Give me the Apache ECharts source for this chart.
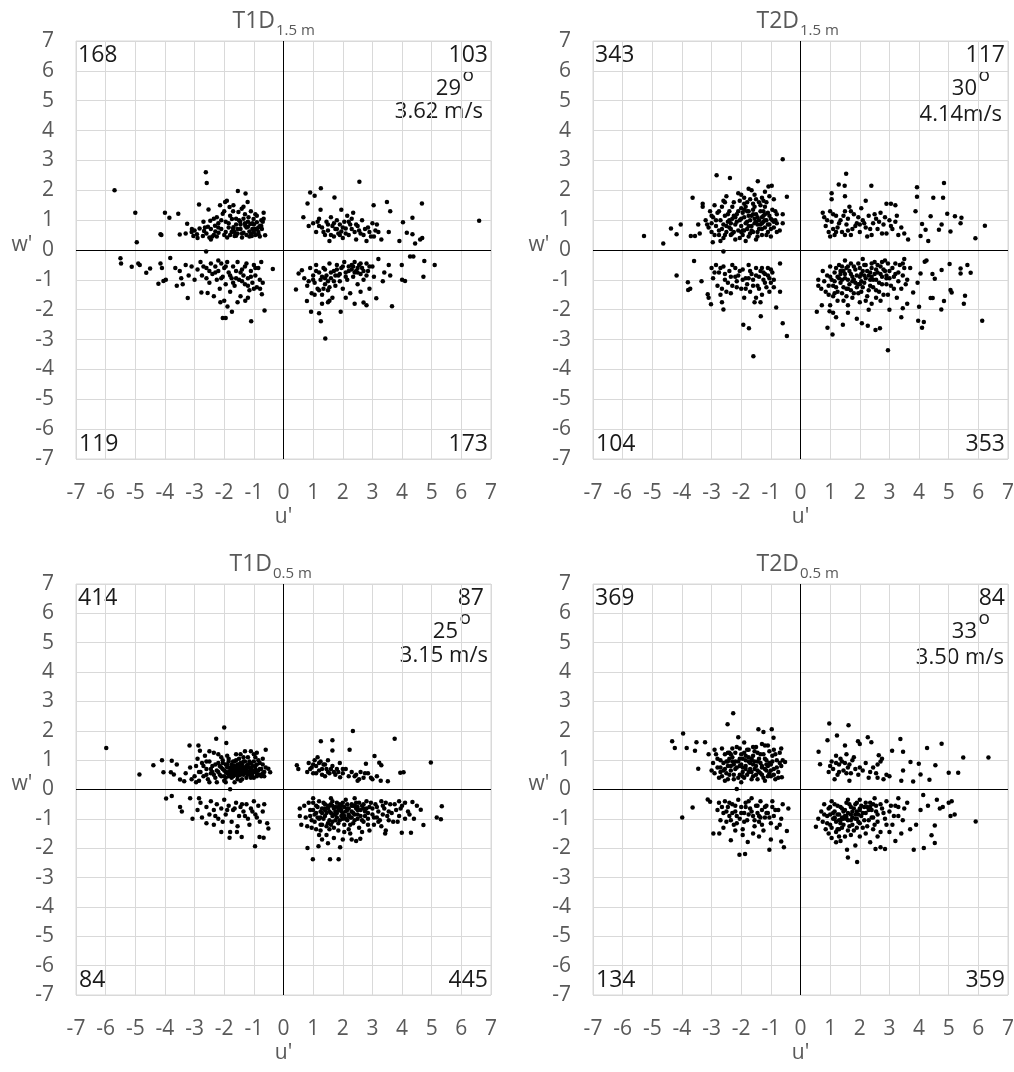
<!DOCTYPE html>
<html>
<head>
<meta charset="utf-8">
<script src="https://cdn.jsdelivr.net/npm/echarts@6/dist/echarts.min.js"></script>
<style>
  html, body { margin: 0; padding: 0; background: #fff; }
  #chart { width: 1014px; height: 1072px; }
</style>
</head>
<body>
<div id="chart"></div>
<script>
// Fluctuation pairs (u', w') in m/s for each measurement case.
const t1d15 = [
  // u' < 0, w' > 0
  [-5.7,2.0],[-5.0,1.25],[-4.95,0.26],[-4.0,1.25],[-3.85,1.08],[-4.15,0.53],[-4.12,0.5],[-3.55,1.21],[-3.5,0.52],
  [-2.62,2.6],[-2.59,2.24],[-2.85,1.52],[-3.25,0.88],[-3.1,0.6],[-3.3,0.55],[-3.09,0.7],[-3.04,0.47],[-2.92,0.53],
  [-2.83,0.72],[-2.72,0.47],[-2.68,0.64],[-2.53,1.36],[-2.47,0.98],[-2.45,0.35],[-2.31,0.81],[-2.25,1.1],[-2.19,0.58],
  [-2.14,1.5],[-2.05,1.21],[-1.97,1.61],[-1.91,1.65],[-1.82,1.44],[-1.74,1.04],[-1.69,1.5],[-1.69,0.76],[-1.65,0.47],
  [-1.54,1.98],[-1.52,1.27],[-1.46,0.95],[-1.41,1.38],[-1.35,0.58],[-1.29,0.81],[-1.28,1.89],[-1.21,1.61],[-1.18,1.1],
  [-1.12,0.87],[-1.07,0.47],[-1.01,1.04],[-0.96,0.7],[-0.9,0.93],[-0.84,0.53],[-0.79,0.81],[-0.73,0.7],[-0.67,1.25],
  [-0.67,1.05],[-0.62,0.49],[-2.4,0.45],[-2.3,0.62],[-2.2,0.9],[-2.1,0.7],[-2.0,0.5],[-1.95,0.95],[-1.9,0.42],
  [-1.85,0.75],[-1.8,1.15],[-1.75,0.6],[-1.6,0.85],[-1.55,0.55],[-1.5,1.0],[-1.45,0.7],[-1.4,0.42],[-1.3,1.2],
  [-1.25,0.5],[-1.2,0.78],[-1.15,0.62],[-1.1,1.3],[-1.05,0.9],[-0.95,0.5],[-0.9,1.15],[-0.85,0.75],[-0.8,0.45],
  [-0.75,1.0],[-2.9,0.4],[-2.7,0.95],[-2.6,0.55],[-2.55,0.78],[-2.5,0.42],[-2.35,1.05],[-2.0,1.3],[-1.7,1.3],
  [-1.6,0.48],[-1.35,1.45],[-1.0,0.6],[-0.7,0.95],[-2.45,0.7],[-2.35,0.5],[-2.2,0.75],[-2.1,1.0],[-1.95,0.6],
  [-1.85,0.9],[-1.8,0.5],[-1.7,0.7],[-1.6,1.05],[-1.55,0.7],[-1.45,0.85],[-1.4,0.55],[-1.35,1.05],[-1.25,0.75],
  [-1.2,0.95],[-1.15,0.45],[-1.05,0.7],[-1.0,0.85],[-0.95,1.2],[-0.85,0.6],[-0.75,0.8],[-2.25,0.45],[-2.65,0.75],
  [-3.0,0.65],[-1.65,0.6],[-1.3,0.9],[-1.1,0.55],[-0.9,0.7],
  // u' < 0, w' < 0
  [-5.5,-0.28],[-5.48,-0.45],[-5.12,-0.56],[-4.9,-0.45],[-4.85,-0.5],[-4.63,-0.76],[-4.5,-0.62],[-4.22,-1.13],
  [-4.05,-1.04],[-3.97,-1.0],[-4.15,-0.45],[-4.1,-0.6],[-3.82,-0.27],[-3.65,-0.6],[-3.6,-1.2],[-3.45,-0.95],
  [-3.23,-1.61],[-2.77,-1.42],[-2.56,-1.44],[-2.61,-0.05],[-0.36,-0.64],[-0.64,-2.03],[-1.09,-2.39],[-2.05,-2.28],
  [-1.95,-2.28],[-1.74,-2.07],[-1.89,-1.89],[-2.13,-1.75],[-1.29,-1.7],[-0.73,-1.48],[-0.79,-1.3],[-3.5,-0.7],
  [-3.3,-0.5],[-3.2,-0.85],[-3.1,-0.55],[-3.0,-1.0],[-2.9,-0.65],[-2.8,-0.4],[-2.75,-0.85],[-2.6,-0.6],[-2.5,-1.1],
  [-2.45,-0.45],[-2.4,-0.8],[-2.3,-0.55],[-2.25,-1.0],[-2.2,-0.7],[-2.15,-1.3],[-2.1,-0.45],[-2.05,-0.9],[-2.0,-0.6],
  [-1.95,-1.15],[-1.9,-0.4],[-1.85,-0.75],[-1.8,-1.4],[-1.75,-0.95],[-1.7,-0.55],[-1.65,-1.2],[-1.6,-0.7],[-1.55,-0.4],
  [-1.5,-1.0],[-1.45,-1.55],[-1.4,-0.65],[-1.35,-0.85],[-1.3,-1.15],[-1.25,-0.45],[-1.2,-0.95],[-1.15,-1.35],[-1.1,-0.7],
  [-1.05,-1.1],[-1.0,-0.5],[-0.95,-0.85],[-0.9,-1.25],[-0.85,-0.6],[-0.8,-1.0],[-0.75,-0.4],[-0.7,-1.1],[-2.35,-1.55],
  [-2.0,-1.7],[-1.55,-1.75],[-1.2,-1.6],[-2.6,-0.95],[-3.4,-1.15],[-2.2,-0.35],[-2.3,-0.75],[-2.1,-0.95],[-1.95,-0.55],
  [-1.8,-0.85],[-1.6,-0.95],[-1.45,-0.75],[-1.3,-0.55],[-1.2,-1.2],[-1.1,-0.9],[-0.95,-0.6],[-2.5,-0.7],[-1.7,-1.1],
  [-1.4,-1.05],[-1.0,-1.3],[-2.7,-0.55],
  // u' > 0, w' > 0
  [2.56,2.29],[1.26,2.07],[0.9,1.93],[1.05,1.82],[0.81,1.56],[1.72,1.76],[3.49,1.61],[4.67,1.56],[6.6,0.98],[3.04,1.5],
  [3.6,1.3],[4.35,1.08],[4.03,0.93],[4.16,0.58],[4.35,0.53],[4.61,0.35],[4.44,0.22],[3.91,0.3],[0.67,1.1],[0.85,0.8],
  [1.25,1.35],[1.95,1.35],[3.3,0.35],[3.55,0.6],[3.15,0.85],[2.35,1.25],[4.68,0.4],[1.0,0.9],[1.1,0.6],[1.2,1.05],
  [1.3,0.75],[1.4,0.5],[1.45,0.95],[1.5,0.65],[1.6,1.1],[1.65,0.8],[1.7,0.45],[1.75,0.7],[1.8,1.0],[1.85,0.55],
  [1.9,0.85],[1.95,0.62],[2.0,0.4],[2.05,0.95],[2.1,0.72],[2.2,0.5],[2.25,0.85],[2.3,1.05],[2.4,0.6],[2.45,0.35],
  [2.5,0.8],[2.6,0.55],[2.65,1.0],[2.75,0.7],[2.8,0.3],[2.9,0.6],[3.0,0.9],[3.05,0.45],[3.2,0.6],[1.55,0.3],[2.15,1.15],
  [1.2,0.8],[1.35,0.6],[1.5,0.85],[1.6,0.5],[1.7,0.9],[1.8,0.7],[1.9,0.5],[2.0,0.75],[2.1,0.55],[2.3,0.7],[2.45,0.85],
  [2.55,0.65],[2.7,0.5],[2.85,0.75],[3.1,0.65],[1.15,0.95],[2.2,0.95],[2.95,0.45],
  // u' > 0, w' < 0
  [1.41,-2.96],[1.26,-2.39],[0.93,-2.07],[1.2,-2.12],[1.93,-2.07],[3.66,-1.88],[2.7,-1.76],[2.8,-1.85],[3.13,-1.62],
  [4.72,-0.9],[4.75,-0.37],[5.1,-0.5],[3.99,-0.5],[4.1,-1.04],[4.0,-1.0],[4.27,-0.22],[4.38,-0.22],[0.42,-1.32],
  [0.51,-0.79],[0.62,-0.68],[0.79,-1.71],[3.55,-0.5],[3.4,-0.75],[3.6,-0.85],[3.2,-0.3],[3.35,-1.05],[2.4,-1.8],
  [1.5,-1.75],[0.7,-0.95],[0.8,-1.2],[0.9,-0.6],[0.95,-1.45],[1.0,-0.85],[1.05,-1.1],[1.1,-0.5],[1.15,-1.3],[1.2,-0.75],
  [1.25,-1.0],[1.3,-1.5],[1.35,-0.6],[1.4,-1.15],[1.45,-0.85],[1.5,-1.35],[1.55,-0.45],[1.6,-0.95],[1.65,-1.6],
  [1.7,-0.7],[1.75,-1.2],[1.8,-0.5],[1.85,-0.85],[1.9,-1.05],[1.95,-0.6],[2.0,-1.3],[2.05,-0.4],[2.1,-0.75],[2.15,-1.0],
  [2.2,-0.55],[2.25,-1.45],[2.3,-0.65],[2.35,-0.9],[2.4,-0.4],[2.45,-0.7],[2.5,-1.15],[2.55,-0.5],[2.6,-0.8],[2.65,-0.6],
  [2.7,-1.0],[2.8,-0.45],[2.85,-0.7],[2.9,-1.3],[3.0,-0.55],[3.05,-0.9],[1.3,-1.8],[1.55,-1.7],[2.1,-1.6],[2.6,-1.4],
  [1.0,-1.0],[1.1,-0.7],[1.2,-1.35],[1.3,-0.9],[1.4,-0.65],[1.5,-1.05],[1.6,-0.75],[1.7,-1.05],[1.8,-0.65],[1.9,-0.8],
  [2.0,-0.55],[2.1,-0.9],[2.2,-0.7],[2.3,-0.5],[2.4,-0.75],[2.5,-0.6],[2.6,-0.45],[2.7,-0.7],[2.8,-0.85],[2.9,-0.55],
  [1.35,-1.3],[1.55,-1.25],[1.05,-1.5],[0.85,-1.05],[2.35,-0.55],[2.5,-0.75],[1.75,-0.85],[1.4,-0.95]
];

const t2d15 = [
  // u' < 0, w' > 0
  [-5.28,0.47],[-4.63,0.22],[-4.37,0.72],[-4.18,0.53],[-4.04,0.85],[-3.64,1.75],[-2.83,2.5],[-2.38,2.41],[-0.6,3.04],
  [-0.46,1.78],[-1.44,2.3],[-0.97,2.15],[-1.08,2.13],[-3.7,0.47],[-3.56,0.47],[-2.96,0.26],[-3.45,0.85],[-3.3,1.55],
  [-3.3,1.45],[-2.6,1.65],[-1.75,2.05],[-1.2,1.95],[-0.6,1.2],[-0.6,0.9],[-0.7,0.65],[-3.0,0.6],[-3.4,0.55],[-2.1,1.9],
  [-1.9,1.75],[-3.2,1.0],[-3.1,0.75],[-3.05,1.3],[-3.0,0.9],[-2.95,1.1],[-2.9,0.5],[-2.85,0.8],[-2.8,1.25],[-2.75,0.65],
  [-2.7,1.0],[-2.65,1.45],[-2.6,0.4],[-2.6,0.85],[-2.55,1.15],[-2.5,0.6],[-2.45,0.95],[-2.4,1.3],[-2.4,0.75],[-2.35,0.5],
  [-2.3,1.05],[-2.25,1.6],[-2.2,0.85],[-2.2,0.35],[-2.15,1.2],[-2.1,0.65],[-2.05,1.0],[-2.0,1.4],[-2.0,0.8],[-1.95,0.5],
  [-1.9,1.1],[-1.9,1.55],[-1.85,0.9],[-1.8,0.7],[-1.8,1.3],[-1.75,0.45],[-1.7,1.0],[-1.7,1.7],[-1.65,0.8],[-1.6,1.2],
  [-1.6,0.6],[-1.55,1.45],[-1.5,0.95],[-1.5,0.35],[-1.45,1.1],[-1.4,0.7],[-1.4,1.6],[-1.35,1.3],[-1.3,0.9],[-1.3,0.5],
  [-1.25,1.15],[-1.2,0.75],[-1.2,1.45],[-1.15,1.0],[-1.1,0.6],[-1.1,1.25],[-1.05,0.85],[-1.0,1.05],[-1.0,0.45],[-0.95,1.35],
  [-0.9,0.75],[-0.9,1.7],[-0.85,1.0],[-0.8,0.6],[-0.8,1.2],[-2.5,1.8],[-2.0,1.85],[-1.55,1.85],[-1.3,1.75],[-2.7,0.3],
  [-1.85,0.3],[-2.9,1.5],[-1.65,2.0],[-2.25,1.15],[-1.75,1.15],[-1.45,0.85],[-2.35,0.7],[-1.95,0.65],[-1.25,0.95],
  [-2.55,0.5],[-2.45,1.2],[-2.35,0.9],[-2.3,1.45],[-2.25,0.6],[-2.15,0.95],[-2.1,1.3],[-2.05,0.4],[-2.0,1.05],[-1.95,1.25],
  [-1.9,0.65],[-1.85,1.45],[-1.8,0.95],[-1.75,1.3],[-1.7,0.55],[-1.65,1.15],[-1.6,1.55],[-1.55,0.9],[-1.5,1.2],[-1.45,0.6],
  [-1.4,1.0],[-1.35,1.5],[-1.3,0.7],[-1.25,1.3],[-1.2,1.0],[-1.15,1.6],[-1.1,0.85],[-1.05,1.15],[-1.0,0.7],[-0.95,1.0],
  [-0.85,1.3],[-0.8,0.9],[-2.85,1.0],[-2.75,1.3],[-2.65,0.7],[-3.0,1.15],[-3.15,0.85],[-2.55,1.6],[-2.05,1.65],[-1.5,1.7],
  [-1.25,1.65],[-1.05,1.8],[-1.75,0.8],[-2.2,1.1],[-1.65,0.65],[-1.35,0.85],[-1.9,1.35],[-2.4,1.0],[-1.15,0.5],[-2.5,0.8],
  [-1.6,1.35],[-1.8,1.6],[-2.3,0.55],[-1.45,0.45],[-1.2,1.2],[-0.9,0.95],[-2.75,0.5],[-2.0,0.6],[-1.55,1.05],[-1.3,1.1],
  // u' < 0, w' < 0
  [-4.18,-0.85],[-3.79,-1.34],[-3.72,-1.3],[-3.8,-1.08],[-3.59,-0.37],[-3.34,-1.05],[-3.13,-1.48],[-3.02,-1.82],[-2.6,-1.99],
  [-1.93,-2.5],[-1.74,-2.62],[-1.59,-3.56],[-1.34,-2.22],[-0.6,-2.45],[-0.46,-2.88],[-0.82,-1.93],[-0.69,-0.45],[-0.69,-1.4],
  [-2.6,-0.05],[-3.1,-1.6],[-3.0,-0.6],[-2.95,-0.95],[-2.85,-0.5],[-2.8,-1.2],[-2.75,-0.75],[-2.65,-1.75],[-2.6,-0.55],
  [-2.55,-1.0],[-2.5,-1.4],[-2.4,-0.7],[-2.35,-0.9],[-2.3,-1.2],[-2.2,-0.6],[-2.15,-1.05],[-2.1,-0.85],[-2.0,-1.3],
  [-1.95,-0.65],[-1.9,-1.6],[-1.85,-0.95],[-1.8,-1.15],[-1.75,-0.5],[-1.7,-1.4],[-1.65,-0.8],[-1.6,-1.0],[-1.55,-1.75],
  [-1.5,-0.6],[-1.45,-1.2],[-1.4,-0.9],[-1.35,-0.7],[-1.3,-1.5],[-1.25,-1.0],[-1.2,-0.8],[-1.15,-1.25],[-1.1,-0.6],
  [-1.05,-0.95],[-1.0,-1.1],[-0.95,-0.75],[-0.9,-1.0],[-1.35,-1.75],[-2.7,-1.5],[-2.9,-0.75],[-2.7,-0.6],[-2.55,-0.8],
  [-2.45,-1.1],[-2.3,-0.5],[-2.2,-0.9],[-2.05,-0.7],[-1.95,-1.0],[-1.85,-1.3],[-1.7,-0.7],[-1.6,-1.2],[-1.5,-0.85],
  [-1.4,-1.3],[-1.3,-0.6],[-1.2,-1.1],[-1.1,-0.85],[-1.0,-0.65],[-0.9,-1.25],[-2.65,-1.3],[-2.35,-1.45],[-1.5,-1.6],
  [-1.25,-0.75],[-1.75,-0.95],[-2.15,-1.25],[-1.05,-1.4],
  // u' > 0, w' > 0
  [1.54,2.55],[1.29,2.19],[1.49,2.15],[2.39,2.15],[3.93,2.1],[4.84,2.24],[3.93,1.78],[4.48,1.75],[4.81,1.75],[3.88,1.3],
  [4.39,1.13],[4.1,0.87],[4.22,0.68],[4.05,0.47],[4.31,0.3],[4.76,0.85],[4.67,0.68],[4.95,1.21],[5.21,1.13],[5.43,1.08],
  [5.4,0.9],[5.06,0.62],[5.9,0.39],[6.22,0.81],[3.63,0.35],[3.5,0.55],[3.2,1.5],[1.05,1.9],[1.05,1.7],[1.5,1.8],
  [2.2,1.65],[3.05,1.55],[2.9,1.55],[0.75,1.25],[0.8,1.1],[0.85,0.8],[0.95,0.6],[1.0,1.3],[1.05,0.95],[1.15,0.5],
  [1.2,1.15],[1.25,0.75],[1.35,1.0],[1.4,0.6],[1.5,1.3],[1.55,0.85],[1.6,1.05],[1.7,0.5],[1.75,0.7],[1.8,1.2],[1.9,0.9],
  [2.0,0.6],[2.05,1.4],[2.1,1.0],[2.2,0.75],[2.3,1.15],[2.4,0.5],[2.45,0.9],[2.55,1.05],[2.6,0.7],[2.7,1.25],[2.8,0.85],
  [2.9,0.55],[3.0,1.0],[3.1,0.7],[3.2,0.95],[3.3,0.5],[3.4,0.75],[1.1,0.7],[1.65,1.45],[2.25,0.45],[0.9,1.0],[1.1,1.2],
  [1.2,0.6],[1.3,0.9],[1.45,1.15],[1.6,0.65],[1.7,1.3],[1.85,0.8],[1.95,1.1],[2.15,0.9],[2.35,0.7],[2.5,1.2],[2.65,0.95],
  [2.85,1.1],[3.05,0.8],[3.25,1.15],[1.0,0.45],[1.5,0.5],[2.0,0.85],[2.75,0.55],
  // u' > 0, w' < 0
  [0.55,-2.07],[0.72,-1.85],[0.91,-2.6],[1.08,-2.83],[0.98,-2.05],[1.1,-2.1],[1.2,-2.25],[1.43,-2.5],[2.07,-2.45],
  [2.27,-2.54],[2.53,-2.68],[2.68,-2.62],[2.95,-3.36],[3.4,-2.25],[3.97,-2.37],[4.16,-2.41],[4.1,-2.6],[4.75,-1.99],
  [4.84,-1.71],[5.06,-1.34],[5.1,-1.42],[5.51,-1.8],[5.55,-1.53],[6.13,-2.37],[5.4,-0.62],[5.4,-0.79],[5.63,-0.5],
  [5.74,-0.76],[5.03,-0.47],[4.76,-0.67],[4.53,-0.96],[4.45,-0.8],[4.39,-1.61],[4.46,-1.61],[4.19,-0.39],[4.25,-0.35],
  [4.05,-0.79],[3.8,-1.42],[3.95,-1.1],[4.0,-1.9],[3.6,-1.8],[3.45,-1.95],[0.6,-1.0],[0.6,-1.2],[1.6,-2.1],[1.9,-2.3],
  [2.3,-2.0],[3.0,-2.0],[3.5,-0.3],[3.45,-0.45],[3.7,-0.6],[0.75,-0.7],[0.8,-1.05],[0.85,-1.4],[0.9,-0.85],[0.95,-1.2],
  [1.0,-0.55],[1.05,-1.0],[1.1,-1.55],[1.15,-0.75],[1.2,-1.25],[1.25,-0.9],[1.3,-0.5],[1.35,-1.1],[1.4,-1.45],[1.45,-0.7],
  [1.5,-0.95],[1.55,-1.3],[1.6,-0.55],[1.65,-1.15],[1.7,-0.8],[1.75,-1.6],[1.8,-1.0],[1.85,-0.65],[1.9,-1.25],[1.95,-0.45],
  [2.0,-0.9],[2.05,-1.4],[2.1,-0.7],[2.15,-1.1],[2.2,-0.5],[2.25,-1.55],[2.3,-0.85],[2.35,-1.2],[2.4,-0.6],[2.45,-1.0],
  [2.5,-0.4],[2.55,-1.35],[2.6,-0.75],[2.65,-1.1],[2.7,-0.55],[2.75,-0.9],[2.8,-1.5],[2.85,-0.7],[2.9,-1.15],[2.95,-0.45],
  [3.0,-0.95],[3.1,-0.6],[3.15,-1.3],[3.2,-0.8],[3.3,-1.05],[3.35,-0.5],[3.45,-0.85],[3.55,-1.15],[1.25,-1.7],[1.6,-1.85],
  [2.0,-1.75],[2.4,-1.8],[1.0,-1.85],[2.7,-1.7],[1.5,-0.35],[2.1,-0.3],[2.85,-0.35],[1.35,-0.8],[1.75,-1.05],[2.15,-0.85],
  [2.55,-0.65],[1.95,-1.15],[1.4,-1.0],[2.35,-0.75],[1.7,-0.45],[2.9,-0.85],[3.25,-1.6],[1.15,-1.45],
  [1.0,-0.9],[1.1,-1.2],[1.2,-0.6],[1.25,-1.4],[1.3,-0.95],[1.4,-0.55],[1.45,-1.25],[1.5,-0.8],[1.55,-1.55],[1.6,-1.0],
  [1.65,-0.7],[1.7,-1.35],[1.8,-0.55],[1.85,-1.1],[1.9,-0.85],[1.95,-1.45],[2.0,-0.6],[2.05,-1.05],[2.1,-1.25],[2.15,-0.5],
  [2.2,-0.95],[2.25,-0.7],[2.3,-1.35],[2.35,-1.0],[2.4,-0.45],[2.45,-1.25],[2.5,-0.8],[2.55,-1.0],[2.6,-0.5],[2.65,-1.4],
  [2.7,-0.8],[2.75,-1.15],[2.8,-0.65],[2.9,-0.95],[3.0,-0.7],[3.05,-1.2],[3.2,-0.45],[3.3,-0.75],[3.4,-1.3],[3.5,-0.6],
  [1.15,-1.05],[1.35,-0.7],[1.6,-1.3],[1.75,-0.9],[2.0,-1.15],[2.2,-1.7],[1.45,-1.7],[0.95,-1.5],[0.7,-1.3],[2.55,-1.6],
  [2.95,-1.5],[1.8,-1.45],[2.4,-0.9],[2.05,-0.8],[1.55,-0.6],[2.75,-0.4],[3.15,-0.9],[3.6,-1.0]
];

const t1d05 = [
  // u' < 0, w' > 0
  [-5.98,1.41],[-4.86,0.51],[-4.39,0.83],[-4.05,0.59],[-4.1,1.0],[-3.77,0.98],[-3.6,0.85],[-3.8,0.59],[-3.7,0.51],
  [-3.49,0.34],[-3.17,1.5],[-2.87,1.5],[-2.82,1.32],[-2.27,1.73],[-2.0,2.11],[-1.93,1.58],[-1.8,0.01],[-0.6,1.35],
  [-0.51,0.71],[-0.45,0.59],[-3.3,0.55],[-3.15,0.75],[-3.35,0.28],[-3.0,0.45],[-2.95,0.8],[-2.9,1.05],[-2.85,0.3],
  [-2.8,0.6],[-2.75,0.9],[-2.7,0.45],[-2.65,1.15],[-2.6,0.7],[-2.55,0.35],[-2.5,0.95],[-2.45,0.55],[-2.4,0.8],[-2.35,1.25],
  [-2.3,0.4],[-2.25,0.65],[-2.2,0.9],[-2.15,0.5],[-2.1,1.1],[-2.05,0.7],[-2.0,0.3],[-1.95,0.85],[-1.9,0.55],[-1.85,1.05],
  [-1.8,0.65],[-1.75,0.4],[-1.7,0.8],[-1.65,0.55],[-1.6,1.0],[-1.6,0.7],[-1.55,0.45],[-1.5,0.85],[-1.5,0.6],[-1.45,0.3],
  [-1.45,1.2],[-1.4,0.7],[-1.35,0.5],[-1.35,0.95],[-1.3,0.65],[-1.25,0.8],[-1.25,0.4],[-1.2,1.1],[-1.2,0.6],[-1.15,0.75],
  [-1.1,0.5],[-1.1,0.9],[-1.05,0.65],[-1.0,1.2],[-1.0,0.4],[-0.95,0.8],[-0.9,0.55],[-0.85,1.0],[-0.8,0.7],[-0.75,0.45],
  [-0.7,0.85],[-0.65,0.6],[-1.7,0.95],[-1.55,0.75],[-1.85,0.45],[-2.05,0.9],[-1.3,1.3],[-0.9,1.25],[-2.5,1.3],[-2.25,0.25],
  [-1.65,0.25],[-1.75,0.6],[-1.4,0.55],[-1.6,0.5],[-1.3,0.75],[-1.5,0.7],[-1.2,0.85],[-1.8,0.75],[-1.1,0.7],[-1.45,0.9],
  [-1.95,0.6],[-1.65,0.8],[-1.35,0.65],[-1.05,0.55],[-2.4,0.6],[-0.95,0.65],
  [-2.2,0.6],[-2.15,0.8],[-2.1,0.45],[-2.05,1.0],[-2.0,0.65],[-1.95,0.4],[-1.9,0.75],[-1.85,0.95],[-1.8,0.5],[-1.75,0.85],
  [-1.7,0.45],[-1.7,0.65],[-1.65,0.95],[-1.6,0.6],[-1.55,0.85],[-1.55,0.35],[-1.5,0.5],[-1.5,1.05],[-1.45,0.75],[-1.45,0.5],
  [-1.4,0.85],[-1.4,0.35],[-1.35,0.75],[-1.3,0.55],[-1.3,0.95],[-1.25,0.65],[-1.2,0.5],[-1.2,0.75],[-1.15,0.95],[-1.15,0.55],
  [-1.1,0.65],[-1.05,0.8],[-1.05,0.45],[-1.0,0.6],[-1.0,0.95],[-0.95,0.7],[-0.9,0.85],[-0.9,0.45],[-0.85,0.65],[-0.8,0.5],
  [-0.8,0.9],[-0.75,0.7],[-0.7,1.05],[-0.7,0.55],[-2.6,0.5],[-2.7,0.8],[-2.45,0.7],[-2.35,0.5],[-2.3,0.85],[-2.6,0.95],
  [-2.85,0.6],[-2.2,1.2],[-1.9,1.15],[-1.6,1.2],[-1.35,1.1],[-1.1,1.3],[-0.95,1.1],[-2.0,0.45],[-1.75,0.7],[-1.65,0.7],
  [-1.5,0.65],[-1.35,0.6],[-1.25,0.7],[-1.85,0.6],[-1.45,0.6],[-1.55,0.55],[-1.25,0.55],[-1.7,0.55],[-1.1,0.4],[-1.9,0.85],
  [-2.1,0.75],[-0.6,0.75],[-0.65,0.45],[-3.1,0.35],[-2.95,0.25],[-2.5,0.25],[-1.95,0.25],
  // u' < 0, w' < 0
  [-3.96,-0.31],[-3.77,-0.22],[-3.49,-0.6],[-3.43,-0.75],[-3.15,-0.3],[-3.07,-1.0],[-2.85,-0.3],[-1.82,-1.64],[-1.8,-1.45],
  [-1.57,-1.45],[-1.41,-1.62],[-0.96,-1.93],[-0.81,-1.62],[-0.67,-1.64],[-0.51,-1.33],[-0.55,-1.15],[-2.1,-1.45],[-2.35,-1.2],
  [-2.9,-0.7],[-2.8,-0.45],[-2.75,-0.95],[-2.6,-0.6],[-2.5,-0.85],[-2.45,-0.4],[-2.35,-0.7],[-2.25,-0.5],[-2.2,-1.0],
  [-2.1,-0.65],[-2.0,-0.35],[-1.95,-0.85],[-1.85,-0.55],[-1.75,-1.1],[-1.7,-0.7],[-1.6,-0.45],[-1.5,-0.9],[-1.45,-0.6],
  [-1.35,-0.75],[-1.25,-0.5],[-1.2,-1.0],[-1.1,-0.65],[-1.0,-0.4],[-0.95,-0.85],[-0.85,-0.55],[-0.8,-1.1],[-0.7,-0.75],
  [-0.65,-0.5],[-1.55,-1.25],[-2.6,-1.15],[-1.65,-0.65],[-1.3,-0.9],[-2.3,-0.9],[-1.9,-0.7],[-1.4,-0.5],[-1.05,-0.75],
  [-0.9,-0.95],[-2.05,-1.1],[-1.15,-1.2],
  // u' > 0, w' > 0
  [2.34,1.99],[1.26,1.64],[1.65,1.68],[3.75,1.73],[4.97,0.92],[1.65,1.33],[2.23,1.35],[3.07,1.14],[3.23,0.91],[3.3,0.83],
  [2.78,0.88],[3.94,0.57],[4.05,0.59],[3.52,0.28],[3.28,0.3],[1.91,0.42],[0.45,0.83],[0.5,0.7],[2.5,0.3],[2.95,0.4],
  [0.8,0.6],[0.85,0.9],[0.95,0.75],[1.0,0.55],[1.05,1.0],[1.1,0.8],[1.2,0.65],[1.25,0.95],[1.3,0.5],[1.35,0.85],[1.45,0.7],
  [1.5,1.0],[1.55,0.55],[1.65,0.8],[1.7,0.6],[1.8,0.7],[1.9,0.9],[2.0,0.55],[2.1,0.7],[2.2,0.45],[2.3,0.6],[2.45,0.5],
  [2.6,0.6],[2.7,0.4],[2.85,0.55],[3.0,0.35],[1.15,1.1],[1.4,0.45],[0.9,0.7],[1.0,0.85],[1.1,0.55],[1.2,0.9],[1.3,0.7],
  [1.4,0.85],[1.5,0.6],[1.6,0.7],[1.75,0.5],[1.85,0.6],[2.0,0.7],[2.4,0.45],[2.55,0.35],[2.75,0.55],[3.15,0.45],
  // u' > 0, w' < 0
  [0.99,-2.38],[1.57,-2.38],[1.86,-2.38],[0.81,-1.99],[1.18,-1.93],[1.5,-1.83],[1.91,-1.97],[4.72,-1.21],[5.34,-0.57],
  [5.17,-0.95],[5.31,-1.01],[3.99,-1.47],[4.3,-1.47],[3.43,-1.5],[3.45,-1.4],[4.63,-0.69],[4.35,-0.43],[4.5,-0.55],
  [2.59,-1.68],[2.45,-1.75],[2.3,-1.7],[0.55,-0.65],[0.55,-0.9],[0.6,-1.2],[4.1,-1.0],[4.2,-0.75],[3.9,-0.4],[4.4,-1.0],
  [0.7,-0.55],[0.75,-0.95],[0.8,-1.25],[0.9,-0.7],[0.95,-1.05],[1.0,-0.45],[1.05,-0.85],[1.1,-1.35],[1.15,-0.6],[1.2,-1.0],
  [1.25,-0.75],[1.3,-1.2],[1.35,-0.45],[1.4,-0.9],[1.45,-1.55],[1.5,-0.65],[1.55,-1.05],[1.6,-0.8],[1.65,-0.4],[1.7,-1.3],
  [1.75,-0.6],[1.8,-0.95],[1.85,-1.15],[1.9,-0.5],[1.95,-0.75],[2.0,-1.0],[2.05,-1.45],[2.1,-0.35],[2.15,-0.65],[2.2,-0.9],
  [2.25,-1.2],[2.3,-0.5],[2.35,-0.8],[2.4,-1.05],[2.45,-0.45],[2.5,-0.7],[2.55,-1.3],[2.6,-0.9],[2.65,-0.55],[2.7,-1.1],
  [2.75,-0.75],[2.8,-0.4],[2.85,-1.0],[2.9,-0.6],[3.0,-0.85],[3.05,-1.2],[3.1,-0.5],[3.2,-0.75],[3.25,-1.05],[3.3,-0.4],
  [3.4,-0.65],[3.5,-0.9],[3.6,-0.5],[3.7,-1.1],[3.8,-0.7],[3.9,-0.9],[4.0,-0.55],[1.3,-1.7],[1.7,-1.65],[2.0,-1.7],
  [1.2,-1.55],[2.9,-1.4],[3.3,-1.25],[1.6,-0.3],[2.4,-0.3],[1.45,-1.25],[2.2,-1.35],[1.0,-0.3],[1.4,-0.7],[1.75,-0.85],
  [2.05,-0.6],[2.3,-0.95],[1.55,-0.55],[1.85,-0.7],[2.15,-1.05],[2.5,-0.85],[1.25,-0.95],[1.95,-0.9],[2.7,-0.65],
  [3.15,-0.95],[3.55,-0.75],[2.85,-0.8],[1.65,-1.1],[2.35,-0.55],[1.1,-0.8],[3.35,-0.55],
  [1.0,-0.7],[1.05,-1.1],[1.1,-0.55],[1.15,-0.95],[1.2,-0.4],[1.25,-1.2],[1.3,-0.65],[1.35,-1.0],[1.4,-0.5],[1.45,-0.8],
  [1.5,-1.15],[1.55,-0.75],[1.6,-0.5],[1.6,-1.2],[1.65,-0.9],[1.7,-0.65],[1.75,-1.05],[1.8,-0.45],[1.8,-0.8],[1.85,-0.6],
  [1.9,-1.05],[1.95,-0.55],[2.0,-0.8],[2.0,-0.45],[2.05,-1.2],[2.1,-0.75],[2.1,-1.0],[2.15,-0.5],[2.2,-0.65],[2.25,-0.95],
  [2.3,-0.75],[2.35,-1.15],[2.4,-0.55],[2.4,-0.85],[2.45,-0.65],[2.5,-1.0],[2.55,-0.45],[2.6,-0.7],[2.65,-1.05],[2.7,-0.5],
  [2.75,-0.9],[2.8,-0.65],[2.85,-1.2],[2.95,-0.45],[3.0,-0.65],[3.05,-0.95],[3.15,-0.6],[3.2,-1.1],[3.35,-0.85],[3.45,-0.45],
  [3.55,-1.05],[3.65,-0.8],[3.75,-0.5],[3.85,-1.1],[3.95,-0.65],[4.1,-0.45],[4.25,-0.85],[0.85,-0.45],[0.9,-0.9],[0.95,-1.3],
  [1.25,-1.4],[1.55,-1.35],[1.85,-1.4],[2.25,-1.5],[2.65,-1.45],[1.5,-0.55],[1.7,-0.85],[1.95,-0.7],[2.2,-0.85],[2.3,-0.55],
  [1.4,-0.65],[1.65,-0.55],[2.05,-0.9],[1.75,-0.75],[2.5,-0.6],[1.3,-0.8],[1.9,-0.65],[2.15,-0.7]
];

const t2d05 = [
  // u' < 0, w' > 0
  [-4.33,1.64],[-4.24,1.41],[-3.96,1.91],[-3.84,1.41],[-3.56,1.32],[-3.51,1.61],[-3.22,1.61],[-3.45,0.71],[-2.46,2.22],
  [-2.27,2.6],[-2.1,1.78],[-1.42,2.05],[-1.25,1.96],[-0.97,2.05],[-0.91,1.76],[-0.65,1.4],[-0.52,0.94],[-0.63,0.42],
  [-2.15,0.02],[-3.0,0.65],[-3.1,1.2],[-2.95,0.9],[-2.9,0.55],[-2.85,1.2],[-2.8,0.75],[-2.75,0.4],[-2.7,1.0],[-2.65,1.4],
  [-2.6,0.65],[-2.55,0.3],[-2.5,0.95],[-2.45,1.25],[-2.4,0.5],[-2.35,0.8],[-2.3,1.1],[-2.25,0.35],[-2.2,0.7],[-2.15,1.45],
  [-2.1,0.95],[-2.05,0.5],[-2.0,1.2],[-1.95,0.75],[-1.9,0.4],[-1.85,1.0],[-1.8,1.35],[-1.75,0.6],[-1.7,0.9],[-1.65,0.35],
  [-1.6,1.15],[-1.55,0.7],[-1.5,0.5],[-1.5,1.45],[-1.45,0.95],[-1.4,0.6],[-1.35,1.2],[-1.3,0.8],[-1.25,0.4],[-1.2,1.05],
  [-1.15,0.65],[-1.1,1.5],[-1.05,0.9],[-1.0,0.45],[-0.95,1.15],[-0.9,0.7],[-0.85,0.35],[-0.8,1.0],[-0.75,0.6],[-0.7,1.25],
  [-0.65,0.8],[-0.6,1.0],[-2.7,0.6],[-2.3,1.4],[-1.9,1.6],[-1.6,0.85],[-1.3,1.55],[-2.0,0.25],[-1.2,0.3],[-2.4,1.05],
  [-1.75,1.1],[-1.1,0.8],[-2.55,0.7],[-2.2,0.95],[-1.85,0.7],[-1.45,1.25],[-1.65,1.0],[-2.05,0.8],[-1.35,0.55],
  [-1.0,0.85],[-2.45,0.95],[-1.55,0.95],[-1.95,1.05],
  [-2.6,0.9],[-2.55,1.2],[-2.5,0.55],[-2.45,0.35],[-2.4,1.25],[-2.35,0.65],[-2.3,0.95],[-2.25,0.5],[-2.2,1.25],[-2.15,0.75],
  [-2.1,0.4],[-2.05,1.05],[-2.0,0.85],[-1.95,0.45],[-1.9,1.25],[-1.85,0.8],[-1.8,0.5],[-1.75,1.35],[-1.7,0.7],[-1.65,1.05],
  [-1.6,0.45],[-1.55,1.3],[-1.5,0.8],[-1.45,0.35],[-1.4,1.05],[-1.35,0.9],[-1.3,0.5],[-1.25,1.2],[-1.2,0.7],[-1.15,1.0],
  [-1.1,0.45],[-1.05,1.3],[-1.0,0.65],[-0.95,0.95],[-0.9,0.5],[-0.85,1.2],[-0.8,0.75],[-0.75,0.4],[-0.7,0.9],[-2.8,1.05],
  [-2.7,0.75],[-2.9,1.35],[-2.65,0.45],[-2.05,1.4],[-1.6,1.45],[-1.2,1.5],[-0.9,1.35],[-1.75,0.95],[-2.25,0.85],[-1.45,0.65],
  [-1.95,0.6],[-1.3,0.75],[-1.05,0.55],[-2.35,1.2],[-1.65,0.6],[-2.45,0.8],[-1.85,1.15],[-1.15,0.85],
  // u' < 0, w' < 0
  [-3.99,-0.95],[-3.64,-0.61],[-3.13,-0.34],[-3.05,-0.42],[-2.94,-1.5],[-2.74,-1.5],[-2.35,-1.73],[-2.06,-2.22],[-1.87,-2.2],
  [-1.78,-1.79],[-1.05,-2.05],[-0.56,-1.97],[-0.65,-1.77],[-0.46,-1.41],[-0.41,-0.65],[-1.0,-1.7],[-1.4,-1.6],[-2.2,-1.4],
  [-2.8,-0.7],[-2.75,-0.45],[-2.7,-1.05],[-2.6,-0.8],[-2.55,-0.4],[-2.5,-1.1],[-2.45,-0.6],[-2.4,-0.9],[-2.3,-0.5],
  [-2.25,-1.2],[-2.2,-0.75],[-2.1,-0.35],[-2.05,-1.0],[-2.0,-0.6],[-1.95,-1.35],[-1.9,-0.8],[-1.85,-0.45],[-1.8,-1.05],
  [-1.7,-0.65],[-1.65,-0.3],[-1.6,-0.9],[-1.55,-1.25],[-1.5,-0.55],[-1.45,-0.8],[-1.4,-1.1],[-1.35,-0.4],[-1.3,-0.7],
  [-1.25,-1.4],[-1.2,-0.95],[-1.15,-0.55],[-1.1,-0.8],[-1.0,-1.15],[-0.95,-0.6],[-0.9,-0.9],[-0.8,-1.3],[-0.75,-0.7],
  [-0.65,-1.0],[-0.6,-0.5],[-1.75,-0.85],[-1.35,-0.95],[-2.15,-0.9],[-2.65,-0.6],[-2.5,-0.75],[-2.4,-0.45],[-2.35,-1.05],
  [-2.2,-0.55],[-2.15,-1.15],[-2.0,-0.8],[-1.9,-1.1],[-1.85,-0.6],[-1.75,-0.4],[-1.65,-0.75],[-1.55,-1.05],[-1.45,-0.55],
  [-1.4,-0.9],[-1.3,-1.2],[-1.2,-0.6],[-1.15,-0.8],[-1.05,-0.95],[-0.95,-0.4],[-0.85,-0.7],[-2.6,-1.3],[-1.95,-1.55],
  [-1.6,-1.5],[-0.7,-1.2],[-2.3,-0.8],
  // u' > 0, w' > 0
  [0.97,2.25],[1.62,2.19],[1.23,1.84],[2.27,1.78],[2.39,1.61],[1.94,1.64],[2.0,1.55],[0.91,1.68],[3.37,1.72],[4.76,1.56],
  [4.27,1.41],[3.46,1.29],[3.09,1.32],[2.64,1.17],[2.75,1.05],[3.71,0.94],[3.99,0.88],[3.46,0.65],[3.4,0.3],[3.8,0.27],
  [4.05,0.51],[4.35,0.33],[4.55,0.83],[5.0,0.57],[5.32,0.57],[5.49,1.09],[6.34,1.09],[0.61,1.29],[0.66,0.86],[1.5,1.5],
  [2.9,0.5],[2.6,0.4],[3.0,0.45],[0.95,0.6],[1.05,0.95],[1.1,0.7],[1.2,1.15],[1.25,0.5],[1.3,0.85],[1.35,1.05],[1.45,0.65],
  [1.5,0.9],[1.55,1.2],[1.6,0.75],[1.65,0.3],[1.7,0.55],[1.75,1.0],[1.85,0.7],[1.95,0.5],[2.1,0.65],[2.2,0.9],[2.3,0.4],
  [2.45,0.75],[2.55,0.55],[2.7,0.95],[2.8,0.35],[1.15,0.35],[1.0,0.8],[1.2,0.9],[1.3,0.6],[1.4,0.95],[1.55,0.55],
  [1.65,0.85],[1.8,1.1],[2.0,0.75],[2.35,0.6],[2.6,0.85],
  // u' > 0, w' < 0
  [1.6,-2.32],[1.91,-2.47],[1.57,-2.05],[1.85,-1.91],[2.53,-2.03],[2.7,-1.97],[2.85,-2.03],[3.82,-2.05],[4.16,-1.99],
  [4.53,-1.82],[4.42,-1.56],[4.53,-1.23],[5.06,-0.9],[5.2,-0.85],[4.7,-0.65],[4.8,-0.6],[5.0,-0.45],[5.91,-1.09],
  [4.14,-0.19],[0.52,-1.27],[0.6,-1.0],[3.3,-0.3],[3.6,-0.45],[4.3,-0.55],[4.05,-0.7],[3.9,-1.2],[3.7,-1.35],[4.6,-0.35],
  [5.1,-0.4],[3.2,-1.75],[2.35,-1.8],[1.2,-1.8],[0.7,-0.75],[0.75,-1.1],[0.8,-0.5],[0.85,-1.35],[0.9,-0.9],[0.95,-0.65],
  [1.0,-1.2],[1.05,-0.4],[1.1,-1.0],[1.15,-0.75],[1.2,-1.45],[1.25,-0.55],[1.3,-0.85],[1.35,-1.15],[1.4,-0.65],[1.45,-1.0],
  [1.5,-1.6],[1.55,-0.45],[1.6,-0.8],[1.65,-1.25],[1.7,-0.6],[1.75,-0.95],[1.8,-1.4],[1.85,-0.5],[1.9,-0.75],[1.95,-1.1],
  [2.0,-0.35],[2.05,-0.9],[2.1,-1.3],[2.15,-0.6],[2.2,-0.8],[2.3,-1.05],[2.35,-0.45],[2.4,-0.7],[2.5,-1.2],[2.55,-0.55],
  [2.6,-0.85],[2.7,-1.45],[2.75,-0.65],[2.85,-1.0],[2.9,-0.4],[3.0,-0.75],[3.1,-1.2],[3.2,-0.55],[3.3,-0.9],[3.4,-1.5],
  [3.5,-0.65],[1.05,-1.65],[1.35,-1.75],[2.0,-1.6],[2.6,-1.6],[1.6,-0.35],[2.5,-0.3],[1.25,-1.35],[1.9,-1.3],[1.15,-1.0],
  [1.45,-0.75],[1.7,-1.05],[2.0,-0.65],[1.3,-1.05],[1.55,-0.9],[1.85,-0.85],[2.25,-0.6],[2.45,-0.95],[1.0,-0.85],[1.4,-1.3],
  [0.8,-0.85],[0.9,-1.15],[1.0,-0.6],[1.05,-1.3],[1.1,-0.8],[1.15,-0.5],[1.2,-1.1],[1.25,-0.85],[1.3,-1.35],[1.35,-0.6],
  [1.4,-0.95],[1.45,-1.2],[1.5,-0.7],[1.55,-1.0],[1.6,-1.4],[1.65,-0.5],[1.7,-0.85],[1.75,-1.2],[1.8,-0.65],[1.85,-1.0],
  [1.9,-0.45],[1.95,-0.85],[2.0,-1.15],[2.05,-0.55],[2.1,-0.8],[2.15,-1.05],[2.2,-0.45],[2.25,-1.25],[2.3,-0.7],[2.4,-0.95],
  [2.45,-0.5],[2.55,-0.75],[2.6,-1.1],[2.7,-0.5],[2.8,-0.8],[2.9,-1.2],[3.05,-0.55],[3.15,-0.9],[3.3,-0.6],[3.45,-1.05],
  [0.95,-1.5],[1.3,-1.6],[1.7,-1.55],[2.2,-1.5],[2.45,-1.35],[3.0,-1.45],[1.15,-0.95],[1.5,-0.9],[1.75,-0.75],[2.0,-0.7],
  [1.35,-1.05],[1.6,-1.05],[1.9,-1.0],[2.35,-0.6]
];

// Panel captions and annotations
const caseNames   = ['T1D', 'T2D', 'T1D', 'T2D'];
const caseHeights = ['1.5 m', '1.5 m', '0.5 m', '0.5 m'];
// Event counts per quadrant: [upper-left, upper-right, lower-left, lower-right]
const quadCounts  = [[168, 103, 119, 173], [343, 117, 104, 353], [414, 87, 84, 445], [369, 84, 134, 359]];
const windAngles  = ['29', '30', '25', '33'];
const windSpeeds  = ['3.62 m/s', '4.14m/s', '3.15 m/s', '3.50 m/s'];
const xAxisName = "u'";
const yAxisName = "w'";
const seriesData = [t1d15, t2d15, t1d05, t2d05];

// Plot rectangles in pixels
const layout = [
  { left: 76,  top: 41,  width: 415, height: 418, titleX: 275, trDx: 3, oDx: 17, spDx: 8, spDy: 71 },
  { left: 593, top: 41,  width: 415, height: 418, titleX: 799, trDx: 3, oDx: 18, spDx: 6, spDy: 74 },
  { left: 76,  top: 584, width: 415, height: 411, titleX: 272, trDx: 7, oDx: 20, spDx: 3, spDy: 72 },
  { left: 593, top: 584, width: 415, height: 411, titleX: 799, trDx: 3, oDx: 18, spDx: 4, spDy: 74 }
];

const FONT = '"Open Sans", "Noto Sans", sans-serif';
const GREY = '#595959';
const GRID_LINE = '#d9d9d9';

const grids = [], xAxes = [], yAxes = [], series = [], graphics = [];

function txt(x, y, text, size, color, align, vAlign) {
  return {
    type: 'text', x: x, y: y, silent: true,
    style: { text: text, fill: color, font: size + 'px ' + FONT, align: align, verticalAlign: vAlign || 'middle' }
  };
}

layout.forEach(function (g, i) {
  grids.push({ left: g.left, top: g.top, width: g.width, height: g.height, show: true,
    borderColor: GRID_LINE, borderWidth: 1, backgroundColor: 'transparent', outerBoundsMode: 'none' });
  const axisCommon = {
    type: 'value', gridIndex: i, min: -7, max: 7, interval: 1,
    axisLine: { show: false }, axisTick: { show: false },
    splitLine: { show: true, lineStyle: { color: GRID_LINE, width: 1 } },
    axisLabel: { color: GREY, fontSize: 21, fontFamily: FONT }
  };
  xAxes.push(Object.assign({}, axisCommon, { axisLabel: Object.assign({}, axisCommon.axisLabel, { margin: 24 }) }));
  yAxes.push(Object.assign({}, axisCommon, { axisLabel: Object.assign({}, axisCommon.axisLabel, { margin: 22 }) }));
  series.push({
    type: 'scatter', xAxisIndex: i, yAxisIndex: i, data: seriesData[i],
    symbol: 'circle', symbolSize: 4.5, itemStyle: { color: '#000', opacity: 1 },
    silent: true, z: 3,
    markLine: {
      silent: true, symbol: ['none', 'none'], label: { show: false },
      lineStyle: { color: '#000', width: 1, type: 'solid' },
      data: [{ xAxis: 0 }, { yAxis: 0 }], animation: false
    }
  });

  const L = g.left, T = g.top, R = g.left + g.width, B = g.top + g.height;
  // title with subscript
  graphics.push(txt(g.titleX, T - 20, caseNames[i], 23, GREY, 'right'));
  graphics.push(txt(g.titleX + 1, T - 10, caseHeights[i], 15, GREY, 'left'));
  // quadrant counts
  const c = quadCounts[i];
  graphics.push(txt(L + 2, T + 14, String(c[0]), 23, '#1a1a1a', 'left'));
  graphics.push(txt(R - g.trDx, T + 14, String(c[1]), 23, '#1a1a1a', 'right'));
  graphics.push(txt(L + 3, B - 15, String(c[2]), 23, '#1a1a1a', 'left'));
  graphics.push(txt(R - 3, B - 15, String(c[3]), 23, '#1a1a1a', 'right'));
  // mean wind direction and speed
  graphics.push(txt(R - g.oDx - 13, T + 48, windAngles[i], 22, '#1a1a1a', 'right'));
  graphics.push(txt(R - g.oDx, T + 35, 'o', 19, '#1a1a1a', 'right'));
  graphics.push(txt(R - g.spDx, T + g.spDy, windSpeeds[i], 22, '#1a1a1a', 'right'));
  // axis names
  graphics.push(txt((L + R) / 2, B + 58, xAxisName, 21, GREY, 'center'));
  graphics.push(txt(L - 54, T + g.height / 2 - 5, yAxisName, 21, GREY, 'center'));
});

const chart = echarts.init(document.getElementById('chart'), null, { renderer: 'canvas' });
chart.setOption({
  animation: false,
  backgroundColor: '#ffffff',
  grid: grids,
  xAxis: xAxes,
  yAxis: yAxes,
  series: series,
  graphic: graphics
});
</script>
</body>
</html>
